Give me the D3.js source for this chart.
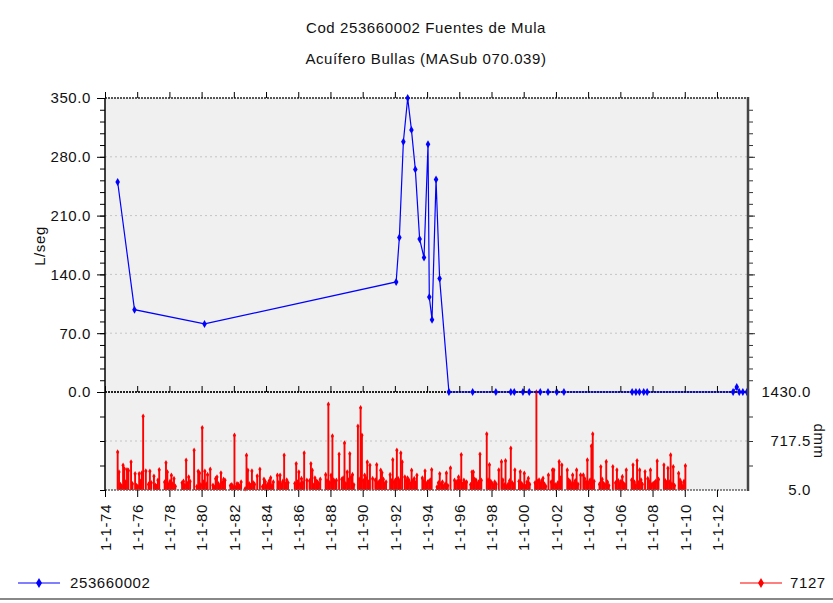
<!DOCTYPE html>
<html>
<head>
<meta charset="utf-8">
<script src="https://cdn.jsdelivr.net/npm/d3@7"></script>
<style>
  body { margin: 0; background: #fff; }
  svg text { font-family: "Liberation Sans", Arial, sans-serif; fill: #111; }
</style>
</head>
<body>
<div id="chart"></div>
<script>
// ── Titles ──
const titleLines = ["Cod 253660002 Fuentes de Mula", "Acuífero Bullas (MASub 070.039)"];
const flowLabel = "L/seg";
const rainLabel = "dmm";
const flowSeriesName = "253660002";
const rainSeriesName = "7127";

// ── Spring flow (L/seg), station 253660002 ──
const flow253660002 = [
    ["1974-10-15", 250], ["1975-11-01", 98], ["1980-03-07", 81],
    ["1992-01-30", 131], ["1992-04-12", 184], ["1992-07-12", 298], ["1992-10-18", 350],
    ["1993-01-11", 312], ["1993-04-09", 265], ["1993-07-16", 182], ["1993-10-23", 160],
    ["1994-01-22", 295], ["1994-02-20", 113], ["1994-04-23", 86], ["1994-07-23", 253],
    ["1994-10-12", 135], ["1995-05-11", 0], ["1996-10-30", 0],
    ["1998-04-10", 0], ["1999-03-15", 0], ["1999-06-01", 0], ["1999-12-15", 0],
    ["2000-05-05", 0], ["2001-01-10", 0], ["2001-07-05", 0], ["2002-01-20", 0],
    ["2002-07-01", 0], ["2006-09-25", 0], ["2006-12-20", 0], ["2007-03-10", 0],
    ["2007-06-15", 0], ["2007-09-01", 0], ["2013-01-01", 0], ["2013-03-25", 6],
    ["2013-05-20", 0], ["2013-08-10", 0], ["2013-11-10", 0]
];

// ── Monthly rainfall (dmm), station 7127 ──
const rain7127 = [
    ["1974-10", 557], ["1974-11", 267], ["1974-12", 85],
    ["1975-01", 60], ["1975-02", 364], ["1975-03", 315], ["1975-04", 120], ["1975-05", 300],
    ["1975-06", 290], ["1975-08", 412], ["1975-09", 95], ["1975-11", 242], ["1975-12", 70],
    ["1976-01", 55], ["1976-02", 242], ["1976-03", 130], ["1976-04", 252], ["1976-05", 1077],
    ["1976-07", 281], ["1976-09", 90], ["1976-10", 277], ["1976-11", 110],
    ["1977-01", 204], ["1977-02", 75], ["1977-03", 60], ["1977-04", 146], ["1977-05", 300],
    ["1977-09", 120], ["1977-10", 402], ["1977-11", 267], ["1977-12", 85],
    ["1978-01", 130], ["1978-02", 219], ["1978-03", 90], ["1978-04", 170], ["1978-05", 60],
    ["1978-10", 111], ["1978-11", 131], ["1978-12", 75],
    ["1979-01", 437], ["1979-02", 100], ["1979-03", 194], ["1979-04", 130], ["1979-07", 582],
    ["1979-09", 55], ["1979-10", 277], ["1979-11", 252], ["1979-12", 80],
    ["1980-01", 911], ["1980-02", 120], ["1980-03", 277], ["1980-04", 90], ["1980-05", 228],
    ["1980-07", 306], ["1980-09", 73], ["1980-10", 45], ["1980-11", 170], ["1980-12", 194],
    ["1981-01", 95], ["1981-02", 60], ["1981-03", 252], ["1981-04", 110], ["1981-05", 160],
    ["1981-06", 146], ["1981-10", 70], ["1981-11", 82], ["1981-12", 50],
    ["1982-01", 800], ["1982-02", 45], ["1982-03", 97], ["1982-04", 85], ["1982-05", 60],
    ["1982-06", 121], ["1982-09", 24], ["1982-10", 510], ["1982-11", 291], ["1982-12", 95],
    ["1983-01", 70], ["1983-02", 281], ["1983-03", 110], ["1983-04", 90], ["1983-06", 209],
    ["1983-08", 306], ["1983-10", 55], ["1983-11", 160], ["1983-12", 125],
    ["1984-01", 60], ["1984-02", 95], ["1984-03", 140], ["1984-04", 184], ["1984-05", 70],
    ["1984-06", 121], ["1984-09", 218], ["1984-10", 110], ["1984-11", 219], ["1984-12", 85],
    ["1985-01", 130], ["1985-02", 510], ["1985-03", 95], ["1985-04", 150], ["1985-05", 111],
    ["1985-10", 100], ["1985-11", 387], ["1985-12", 120],
    ["1986-01", 267], ["1986-02", 90], ["1986-03", 170], ["1986-04", 110], ["1986-05", 543],
    ["1986-07", 146], ["1986-09", 140], ["1986-10", 387], ["1986-11", 291], ["1986-12", 75],
    ["1987-01", 180], ["1987-02", 131], ["1987-03", 120], ["1987-04", 95], ["1987-05", 160],
    ["1987-09", 228], ["1987-10", 140], ["1987-11", 1251], ["1987-12", 110],
    ["1988-01", 219], ["1988-02", 790], ["1988-03", 150], ["1988-04", 120], ["1988-05", 146],
    ["1988-07", 524], ["1988-09", 160], ["1988-10", 180], ["1988-11", 688], ["1988-12", 95],
    ["1989-01", 267], ["1989-02", 150], ["1989-03", 533], ["1989-04", 190], ["1989-05", 228],
    ["1989-06", 80], ["1989-09", 931], ["1989-10", 160], ["1989-11", 1202], ["1989-12", 800],
    ["1990-01", 140], ["1990-02", 219], ["1990-03", 180], ["1990-04", 412], ["1990-05", 120],
    ["1990-06", 364], ["1990-08", 170], ["1990-10", 150], ["1990-11", 373], ["1990-12", 110],
    ["1991-01", 130], ["1991-02", 291], ["1991-03", 257], ["1991-04", 160], ["1991-05", 90],
    ["1991-06", 121], ["1991-09", 228], ["1991-10", 140], ["1991-11", 446], ["1991-12", 120],
    ["1992-01", 150], ["1992-02", 582], ["1992-03", 170], ["1992-04", 130], ["1992-05", 543],
    ["1992-06", 412], ["1992-08", 194], ["1992-09", 140], ["1992-10", 180], ["1992-11", 146],
    ["1992-12", 100],
    ["1993-01", 291], ["1993-02", 140], ["1993-03", 170], ["1993-04", 110], ["1993-05", 219],
    ["1993-09", 179], ["1993-10", 130], ["1993-11", 281], ["1993-12", 90],
    ["1994-01", 121], ["1994-02", 131], ["1994-03", 150], ["1994-04", 300], ["1994-08", 49],
    ["1994-09", 110], ["1994-10", 242], ["1994-11", 95], ["1994-12", 121],
    ["1995-01", 60], ["1995-02", 90], ["1995-03", 252], ["1995-04", 70], ["1995-06", 325],
    ["1995-09", 146], ["1995-10", 110], ["1995-11", 130], ["1995-12", 194],
    ["1996-01", 140], ["1996-02", 518], ["1996-03", 90], ["1996-04", 146], ["1996-05", 110],
    ["1996-06", 121], ["1996-09", 85], ["1996-10", 267], ["1996-11", 267], ["1996-12", 160],
    ["1997-01", 146], ["1997-02", 90], ["1997-03", 120], ["1997-04", 524], ["1997-05", 146],
    ["1997-09", 820], ["1997-10", 150], ["1997-11", 373], ["1997-12", 130],
    ["1998-01", 100], ["1998-02", 70], ["1998-03", 120], ["1998-04", 90], ["1998-06", 296],
    ["1998-08", 417], ["1998-09", 150], ["1998-10", 80], ["1998-11", 431], ["1998-12", 60],
    ["1999-01", 90], ["1999-02", 140], ["1999-03", 611], ["1999-04", 110], ["1999-05", 80],
    ["1999-06", 296], ["1999-09", 130], ["1999-10", 271], ["1999-11", 100], ["1999-12", 70],
    ["2000-01", 248], ["2000-02", 60], ["2000-03", 120], ["2000-04", 175], ["2000-05", 90],
    ["2000-09", 110], ["2000-10", 1430], ["2000-11", 130], ["2000-12", 150],
    ["2001-01", 100], ["2001-02", 140], ["2001-03", 175], ["2001-04", 90], ["2001-05", 60],
    ["2001-07", 223], ["2001-09", 120], ["2001-10", 296], ["2001-11", 296], ["2001-12", 80],
    ["2002-01", 70], ["2002-02", 110], ["2002-03", 417], ["2002-04", 180], ["2002-05", 369],
    ["2002-09", 296], ["2002-10", 150], ["2002-11", 130], ["2002-12", 90],
    ["2003-01", 223], ["2003-02", 100], ["2003-03", 140], ["2003-04", 296], ["2003-05", 90],
    ["2003-07", 223], ["2003-09", 223], ["2003-10", 170], ["2003-11", 120], ["2003-12", 441],
    ["2004-01", 110], ["2004-02", 150], ["2004-03", 645], ["2004-04", 819], ["2004-05", 130],
    ["2004-09", 90], ["2004-10", 344], ["2004-11", 160], ["2004-12", 100],
    ["2005-01", 80], ["2005-02", 417], ["2005-03", 120], ["2005-04", 70], ["2005-07", 344],
    ["2005-09", 110], ["2005-10", 296], ["2005-11", 140], ["2005-12", 90],
    ["2006-01", 130], ["2006-02", 199], ["2006-03", 100], ["2006-04", 80], ["2006-05", 296],
    ["2006-09", 150], ["2006-10", 369], ["2006-11", 120], ["2006-12", 70],
    ["2007-01", 431], ["2007-02", 110], ["2007-03", 296], ["2007-04", 150], ["2007-05", 90],
    ["2007-07", 271], ["2007-09", 170], ["2007-10", 130], ["2007-11", 296], ["2007-12", 80],
    ["2008-01", 100], ["2008-02", 111], ["2008-03", 130], ["2008-04", 427], ["2008-05", 160],
    ["2008-09", 369], ["2008-10", 140], ["2008-11", 110], ["2008-12", 320],
    ["2009-01", 120], ["2009-02", 514], ["2009-03", 90], ["2009-04", 344], ["2009-05", 70],
    ["2009-08", 248], ["2009-09", 150], ["2009-10", 110], ["2009-11", 60], ["2009-12", 130],
    ["2010-01", 358]
];

// ── Axis ticks ──
const flowTicks = [0, 70, 140, 210, 280, 350];
const rainTicks = [5, 717.5, 1430];
const rainMinorTicks = [361.25, 1073.75];
const yearTicks = d3.range(1974, 2013, 2);

const WIDTH = 833;
const HEIGHT = 603;

const parseDay = d3.timeParse("%Y-%m-%d");
const parseMonth = d3.timeParse("%Y-%m");

const flowData = flow253660002.map(([d, v]) => ({ date: parseDay(d), value: v }));
const rainData = rain7127.map(([m, v]) => ({ date: d3.timeDay.offset(parseMonth(m), 14), value: v }));

// ── Scales ──
const x = d3.scaleTime()
    .domain([new Date(1974, 0, 1), new Date(2013, 11, 5)])
    .range([105, 748]);
const yFlow = d3.scaleLinear().domain([0, 350]).range([392, 98]);
const yRain = d3.scaleLinear().domain([5, 1430]).range([490, 392]);

const svg = d3.select("#chart").append("svg")
    .attr("width", WIDTH)
    .attr("height", HEIGHT);

// ── Titles ──
svg.selectAll("text.title")
    .data(titleLines)
    .enter().append("text")
    .attr("class", "title")
    .attr("x", 426)
    .attr("y", (d, i) => 33 + i * 31)
    .attr("text-anchor", "middle")
    .style("font-size", "15px")
    .style("letter-spacing", "0.6px")
    .text(d => d);

// ── Panel backgrounds ──
svg.append("rect").attr("x", 105).attr("y", 98).attr("width", 643).attr("height", 294).attr("fill", "#f0f0f0");
svg.append("rect").attr("x", 105).attr("y", 392).attr("width", 643).attr("height", 98).attr("fill", "#f0f0f0");

// ── Grid lines ──
svg.append("g").selectAll("line")
    .data(flowTicks.filter(d => d > 0 && d < 350))
    .enter().append("line")
    .attr("x1", 105).attr("x2", 748)
    .attr("y1", d => yFlow(d)).attr("y2", d => yFlow(d))
    .attr("stroke", "#c4c4c4").attr("stroke-dasharray", "2,3");
svg.append("line")
    .attr("x1", 105).attr("x2", 748)
    .attr("y1", yRain(717.5)).attr("y2", yRain(717.5))
    .attr("stroke", "#c4c4c4").attr("stroke-dasharray", "2,3");

// ── Rainfall bars ──
const bars = svg.append("g");
bars.selectAll("line")
    .data(rainData)
    .enter().append("line")
    .attr("x1", d => x(d.date)).attr("x2", d => x(d.date))
    .attr("y1", yRain(5)).attr("y2", d => yRain(d.value))
    .attr("stroke", "#ff0000").attr("stroke-width", 1.9);
bars.selectAll("path")
    .data(rainData)
    .enter().append("path")
    .attr("d", d3.symbol(d3.symbolDiamond, 9))
    .attr("transform", d => `translate(${x(d.date)},${yRain(d.value)})`)
    .attr("fill", "#ff0000");

// ── Frame lines ──
svg.append("line").attr("x1", 105).attr("x2", 748).attr("y1", 98).attr("y2", 98)
    .attr("stroke", "#222").attr("stroke-width", 1.5).attr("stroke-dasharray", "2,1");
svg.append("line").attr("x1", 105).attr("x2", 748).attr("y1", 392).attr("y2", 392)
    .attr("stroke", "#222").attr("stroke-width", 2).attr("stroke-dasharray", "2,1");
svg.append("line").attr("x1", 105).attr("x2", 748).attr("y1", 490).attr("y2", 490)
    .attr("stroke", "#666").attr("stroke-width", 1.5).attr("stroke-dasharray", "2,1");

// ── Flow line ──
svg.append("path")
    .datum(flowData)
    .attr("d", d3.line().x(d => x(d.date)).y(d => yFlow(d.value)))
    .attr("fill", "none")
    .attr("stroke", "#0000ff")
    .attr("stroke-width", 1.2);
svg.append("g").selectAll("path")
    .data(flowData)
    .enter().append("path")
    .attr("d", d3.symbol(d3.symbolDiamond, 18))
    .attr("transform", d => `translate(${x(d.date)},${yFlow(d.value)})`)
    .attr("fill", "#0000ff");

// ── Left axis (flow) ──
svg.append("g").attr("transform", "translate(105,0)")
    .call(d3.axisLeft(yFlow).tickValues(d3.range(0, 351, 14)).tickSize(5).tickFormat(""))
    .call(g => g.select(".domain").remove());
svg.append("g").attr("transform", "translate(105,0)")
    .call(d3.axisLeft(yFlow).tickValues(flowTicks).tickSize(8).tickPadding(6).tickFormat(d3.format(".1f")))
    .call(g => g.select(".domain").remove())
    .call(g => g.selectAll("text").style("font-size", "15px").style("letter-spacing", "0.6px")
        .attr("font-family", null).attr("fill", "#111"));

// ── Left axis (rain), ticks only ──
svg.append("g").attr("transform", "translate(105,0)")
    .call(d3.axisLeft(yRain).tickValues(rainTicks.concat(rainMinorTicks)).tickSize(5).tickFormat(""))
    .call(g => g.select(".domain").remove());
svg.append("line").attr("x1", 105).attr("x2", 105).attr("y1", 98).attr("y2", 490)
    .attr("stroke", "#000").attr("stroke-width", 1.5);

// ── Right axis ──
svg.append("g").attr("transform", "translate(748,0)")
    .call(d3.axisRight(yFlow).tickValues(d3.range(14, 350, 14)).tickSize(5).tickFormat(""))
    .call(g => g.select(".domain").remove())
    .call(g => g.selectAll("line").attr("stroke", "#333"));
svg.append("g").attr("transform", "translate(748,0)")
    .call(d3.axisRight(yFlow).tickValues(flowTicks.filter(d => d > 0 && d < 350)).tickSize(7).tickFormat(""))
    .call(g => g.select(".domain").remove())
    .call(g => g.selectAll("line").attr("stroke", "#333"));
svg.append("g").attr("transform", "translate(748,0)")
    .call(d3.axisRight(yRain).tickValues(rainMinorTicks.concat([717.5])).tickSize(5).tickFormat(""))
    .call(g => g.select(".domain").remove())
    .call(g => g.selectAll("line").attr("stroke", "#333"));
svg.append("g").attr("transform", "translate(811,0)")
    .call(d3.axisLeft(yRain).tickValues(rainTicks).tickSize(0).tickPadding(0).tickFormat(d3.format(".1f")))
    .call(g => g.select(".domain").remove())
    .call(g => g.selectAll("text").style("font-size", "15px").style("letter-spacing", "0.6px")
        .attr("font-family", null).attr("fill", "#111"));
svg.append("line").attr("x1", 748).attr("x2", 748).attr("y1", 97).attr("y2", 491)
    .attr("stroke", "#444").attr("stroke-width", 2.5);

// ── Time axes ──
const yearDates = yearTicks.map(y => new Date(y, 0, 1));
svg.append("g").attr("transform", "translate(0,98)")
    .call(d3.axisTop(x).tickValues(yearDates).tickSize(6).tickFormat(""))
    .call(g => g.select(".domain").remove());
svg.append("g").attr("transform", "translate(0,392)")
    .call(d3.axisTop(x).tickValues(yearDates).tickSize(6).tickFormat(""))
    .call(g => g.select(".domain").remove());
const bottomAxis = svg.append("g").attr("transform", "translate(0,490)")
    .call(d3.axisBottom(x).tickValues(yearDates).tickSize(7).tickFormat(d => "1-1-" + d3.timeFormat("%y")(d)))
    .call(g => g.select(".domain").remove());
bottomAxis.selectAll("text")
    .attr("font-family", null)
    .attr("fill", "#111")
    .style("font-size", "15px")
    .style("letter-spacing", "0.6px")
    .attr("text-anchor", "end")
    .attr("transform", "rotate(-90)")
    .attr("x", -14)
    .attr("y", 0)
    .attr("dy", "0.35em");

// ── Axis titles ──
svg.append("text")
    .attr("transform", "translate(45,246) rotate(-90)")
    .attr("text-anchor", "middle")
    .style("font-size", "15px")
    .style("letter-spacing", "0.6px")
    .text(flowLabel);
svg.append("text")
    .attr("transform", "translate(814,441) rotate(90)")
    .attr("text-anchor", "middle")
    .style("font-size", "15px")
    .style("letter-spacing", "0.6px")
    .text(rainLabel);

// ── Legend ──
const legendItems = [
    { name: flowSeriesName, color: "#0000ff", x0: 18, x1: 60, tx: 70 },
    { name: rainSeriesName, color: "#ff0000", x0: 740, x1: 782, tx: 790 }
];
const legend = svg.append("g");
legend.selectAll("line")
    .data(legendItems)
    .enter().append("line")
    .attr("x1", d => d.x0).attr("x2", d => d.x1)
    .attr("y1", 583).attr("y2", 583)
    .attr("stroke", d => d.color).attr("stroke-width", 1.2);
legend.selectAll("path")
    .data(legendItems)
    .enter().append("path")
    .attr("d", d3.symbol(d3.symbolDiamond, 30))
    .attr("transform", d => `translate(${(d.x0 + d.x1) / 2},583)`)
    .attr("fill", d => d.color);
legend.selectAll("text")
    .data(legendItems)
    .enter().append("text")
    .attr("x", d => d.tx)
    .attr("y", 588)
    .style("font-size", "15px")
    .style("letter-spacing", "0.6px")
    .text(d => d.name);
svg.append("line").attr("x1", 0).attr("x2", WIDTH).attr("y1", 599).attr("y2", 599)
    .attr("stroke", "#888").attr("stroke-width", 2);
</script>
</body>
</html>
